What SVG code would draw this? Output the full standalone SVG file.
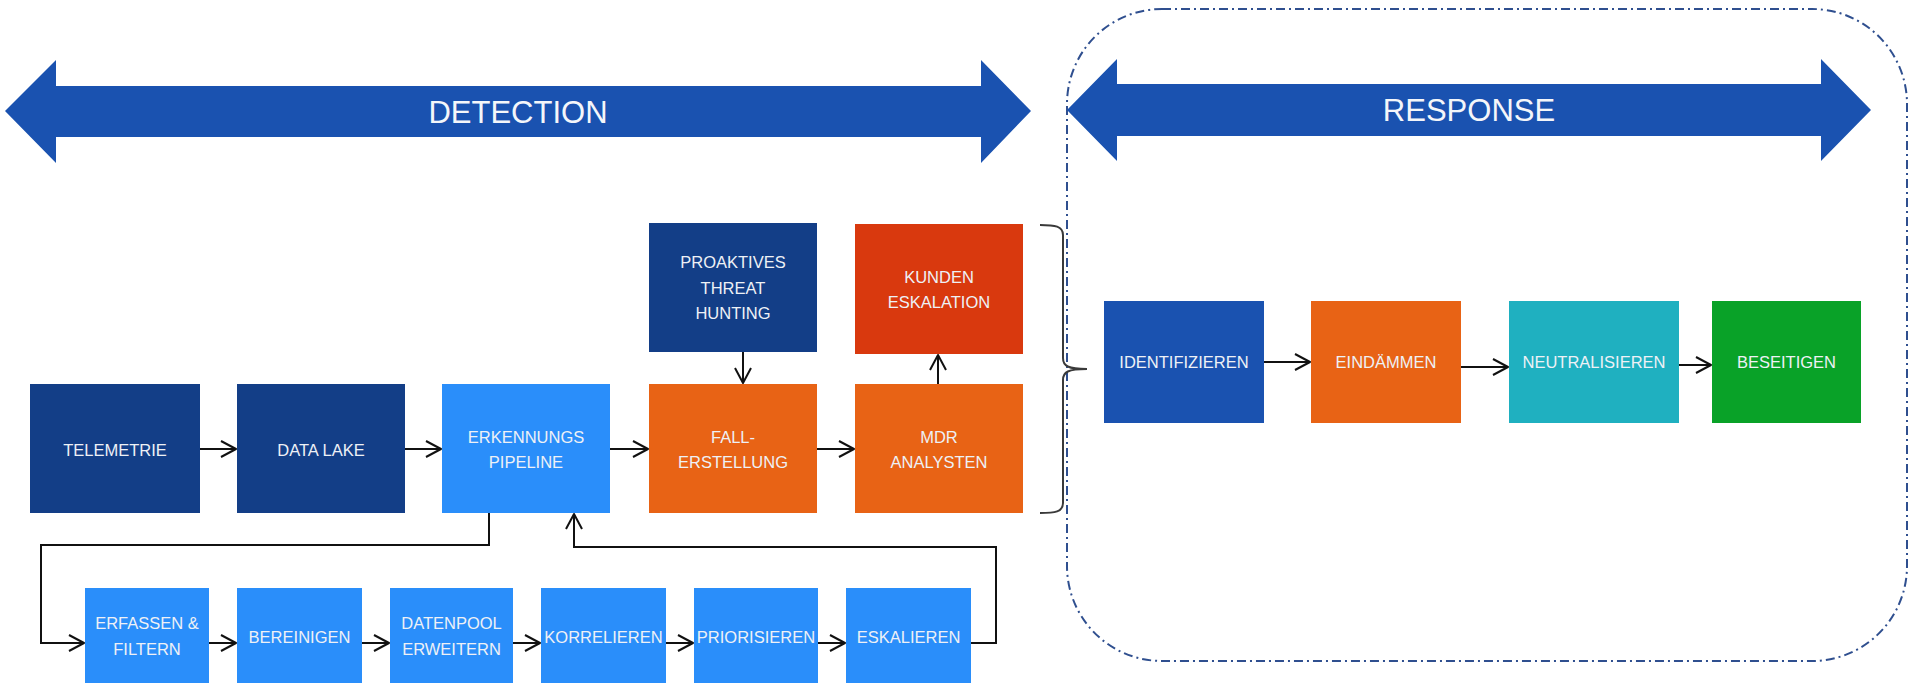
<svg xmlns="http://www.w3.org/2000/svg" width="1911" height="687" viewBox="0 0 1911 687">
<style>
.lbl{font-family:"Liberation Sans",Arial,sans-serif;font-size:16.5px;fill:#EEF1F6;text-anchor:middle}
.ban{font-family:"Liberation Sans",Arial,sans-serif;font-size:31px;fill:#F4F6FA;text-anchor:middle}
.navy{fill:#133E87}
.lb{fill:#2A8EFA}
.or{fill:#E86315}
.red{fill:#D9390E}
.blue{fill:#1A52B0}
.teal{fill:#1FB0C0}
.green{fill:#09A228}
.con{fill:none;stroke:#111;stroke-width:2}
</style>
<defs>
<marker id="ah" markerUnits="userSpaceOnUse" markerWidth="24" markerHeight="24" viewBox="-20 -12 24 24" refX="0" refY="0" orient="auto">
<path d="M-15,-8 L0,0 L-15,8" fill="none" stroke="#111" stroke-width="2" stroke-linejoin="round"/>
</marker>
</defs>
<rect width="1911" height="687" fill="#FFFFFF"/>

<g id="frame-response">
<rect x="1067" y="9" width="840" height="652" rx="95" ry="95" fill="none" stroke="#2F4F8F" stroke-width="2" stroke-dasharray="9 4 2 4"/>
</g>

<g id="banner-detection">
<polygon class="blue" points="5,111 56,60 56,86 981,86 981,60 1031,111 981,163 981,137 56,137 56,163"/>
<text class="ban" x="518" y="123">DETECTION</text>
</g>
<g id="banner-response">
<polygon class="blue" points="1067,110 1117,59 1117,84 1821,84 1821,59 1871,110 1821,161 1821,136 1117,136 1117,161"/>
<text class="ban" x="1469" y="121">RESPONSE</text>
</g>

<g id="connectors">
<path class="con" d="M200,449 L236,449" marker-end="url(#ah)"/>
<path class="con" d="M405,449 L441,449" marker-end="url(#ah)"/>
<path class="con" d="M610,449 L648,449" marker-end="url(#ah)"/>
<path class="con" d="M817,449 L854,449" marker-end="url(#ah)"/>
<path class="con" d="M743,352 L743,383" marker-end="url(#ah)"/>
<path class="con" d="M938,384 L938,355" marker-end="url(#ah)"/>
<path class="con" d="M489,513 L489,545 L41,545 L41,643 L84,643" marker-end="url(#ah)"/>
<path class="con" d="M209,643 L236,643" marker-end="url(#ah)"/>
<path class="con" d="M362,643 L389,643" marker-end="url(#ah)"/>
<path class="con" d="M513,643 L540,643" marker-end="url(#ah)"/>
<path class="con" d="M666,643 L693,643" marker-end="url(#ah)"/>
<path class="con" d="M818,643 L845,643" marker-end="url(#ah)"/>
<path class="con" d="M971,643 L996,643 L996,547 L574,547 L574,514" marker-end="url(#ah)"/>
<path class="con" d="M1264,362 L1310,362" marker-end="url(#ah)"/>
<path class="con" d="M1461,367 L1508,367" marker-end="url(#ah)"/>
<path class="con" d="M1679,365 L1711,365" marker-end="url(#ah)"/>
<path d="M1040,225 C1055,225 1063,226 1063,235 L1063,358 C1063,366 1068,369 1087,369 M1087,369 C1068,369 1063,372 1063,380 L1063,503 C1063,512 1055,513 1040,513" fill="none" stroke="#3A3A3A" stroke-width="2"/>
</g>

<g id="telemetrie">
<rect class="navy" x="30" y="384" width="170" height="129"/>
<text class="lbl" x="115" y="456">TELEMETRIE</text>
</g>
<g id="data-lake">
<rect class="navy" x="237" y="384" width="168" height="129"/>
<text class="lbl" x="321" y="456">DATA LAKE</text>
</g>
<g id="erkennungs-pipeline">
<rect class="lb" x="442" y="384" width="168" height="129"/>
<text class="lbl" x="526" y="443">ERKENNUNGS</text>
<text class="lbl" x="526" y="468">PIPELINE</text>
</g>
<g id="proaktives-threat-hunting">
<rect class="navy" x="649" y="223" width="168" height="129"/>
<text class="lbl" x="733" y="268">PROAKTIVES</text>
<text class="lbl" x="733" y="294">THREAT</text>
<text class="lbl" x="733" y="319">HUNTING</text>
</g>
<g id="fall-erstellung">
<rect class="or" x="649" y="384" width="168" height="129"/>
<text class="lbl" x="733" y="443">FALL-</text>
<text class="lbl" x="733" y="468">ERSTELLUNG</text>
</g>
<g id="kunden-eskalation">
<rect class="red" x="855" y="224" width="168" height="130"/>
<text class="lbl" x="939" y="283">KUNDEN</text>
<text class="lbl" x="939" y="308">ESKALATION</text>
</g>
<g id="mdr-analysten">
<rect class="or" x="855" y="384" width="168" height="129"/>
<text class="lbl" x="939" y="443">MDR</text>
<text class="lbl" x="939" y="468">ANALYSTEN</text>
</g>

<g id="erfassen-filtern">
<rect class="lb" x="85" y="588" width="124" height="95"/>
<text class="lbl" x="147" y="629">ERFASSEN &amp;</text>
<text class="lbl" x="147" y="655">FILTERN</text>
</g>
<g id="bereinigen">
<rect class="lb" x="237" y="588" width="125" height="95"/>
<text class="lbl" x="299.5" y="643">BEREINIGEN</text>
</g>
<g id="datenpool-erweitern">
<rect class="lb" x="390" y="588" width="123" height="95"/>
<text class="lbl" x="451.5" y="629">DATENPOOL</text>
<text class="lbl" x="451.5" y="655">ERWEITERN</text>
</g>
<g id="korrelieren">
<rect class="lb" x="541" y="588" width="125" height="95"/>
<text class="lbl" x="603.5" y="643">KORRELIEREN</text>
</g>
<g id="priorisieren">
<rect class="lb" x="694" y="588" width="124" height="95"/>
<text class="lbl" x="756" y="643">PRIORISIEREN</text>
</g>
<g id="eskalieren">
<rect class="lb" x="846" y="588" width="125" height="95"/>
<text class="lbl" x="908.5" y="643">ESKALIEREN</text>
</g>

<g id="identifizieren">
<rect class="blue" x="1104" y="301" width="160" height="122"/>
<text class="lbl" x="1184" y="368">IDENTIFIZIEREN</text>
</g>
<g id="eindaemmen">
<rect class="or" x="1311" y="301" width="150" height="122"/>
<text class="lbl" x="1386" y="368">EINDÄMMEN</text>
</g>
<g id="neutralisieren">
<rect class="teal" x="1509" y="301" width="170" height="122"/>
<text class="lbl" x="1594" y="368">NEUTRALISIEREN</text>
</g>
<g id="beseitigen">
<rect class="green" x="1712" y="301" width="149" height="122"/>
<text class="lbl" x="1786.5" y="368">BESEITIGEN</text>
</g>
</svg>
